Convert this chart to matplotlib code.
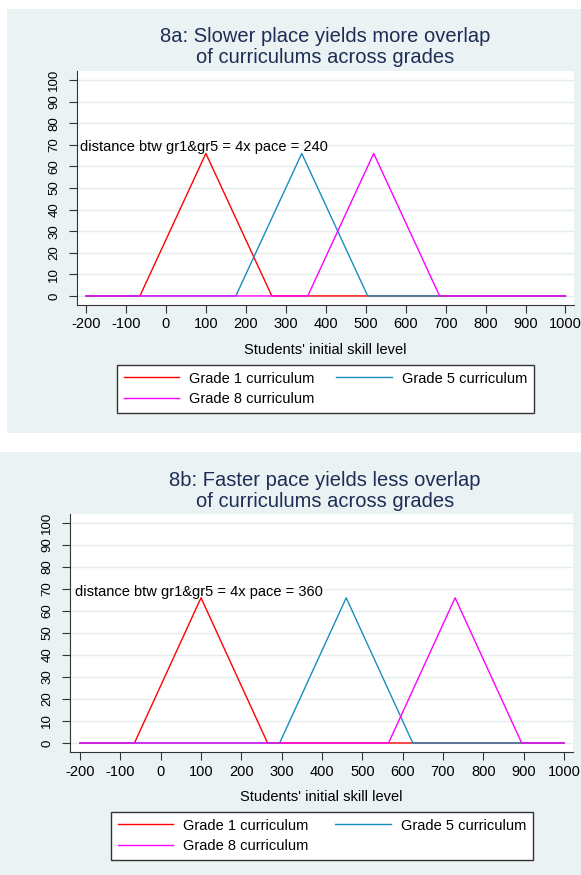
import matplotlib
matplotlib.use('Agg')
import matplotlib.pyplot as plt

# data
#=============================
peak = 66
x_g1 = [-200, -65, 100, 265, 1000]
x_g5_a = [-200, 175, 340, 505, 1000]
x_g8_a = [-200, 355, 520, 685, 1000]
x_g5_b = [-200, 295, 460, 625, 1000]
x_g8_b = [-200, 565, 730, 895, 1000]
y_tri = [0, 0, peak, 0, 0]

labels = ['Grade 1 curriculum', 'Grade 5 curriculum', 'Grade 8 curriculum']
titles = ['8a: Slower place yields more overlap\nof curriculums across grades',
          '8b: Faster pace yields less overlap\nof curriculums across grades']
notes = ['distance btw gr1&gr5 = 4x pace = 240',
         'distance btw gr1&gr5 = 4x pace = 360']
xticks = list(range(-200, 1001, 100))
yticks = list(range(0, 101, 10))

#style
#=============================
plt.rcParams['font.family'] = ['Liberation Sans', 'DejaVu Sans']
plt.rcParams['axes.unicode_minus'] = False
bg = '#EAF2F3'
grid_c = '#E4ECEE'
title_c = '#1E2D55'
colors = ['#FF0000', '#1A8DBF', '#FF00FF']
fs = 10.5
W, H = 581, 875

fig = plt.figure(figsize=(W / 100, H / 100), dpi=100)
fig.patch.set_facecolor('white')


def fx(px):
    return px / W


def fy(py):
    return 1 - py / H


def panel(bg_rect, ax_rect, xlim, ylim, xs, title, title_y, note, note_xy, leg_rect):
    # background of the panel
    l, t, r, b = bg_rect
    fig.patches.append(plt.Rectangle((fx(l), fy(b)), fx(r - l), (b - t) / H,
                                     transform=fig.transFigure, facecolor=bg,
                                     edgecolor='none', zorder=-10))
    l, t, r, b = ax_rect
    ax = fig.add_axes([fx(l), fy(b), fx(r - l), (b - t) / H])
    ax.set_facecolor('white')
    for y in yticks:
        ax.axhline(y, color=grid_c, lw=1.0, zorder=0)
    hs = []
    for x, c in zip(xs, colors):
        h, = ax.plot(x, y_tri, color=c, lw=1.0, zorder=2)
        hs.append(h)
    ax.set_xlim(*xlim)
    ax.set_ylim(*ylim)
    ax.set_xticks(xticks)
    ax.set_yticks(yticks)
    ax.tick_params(axis='x', labelsize=fs, length=6, width=0.8, color='#333333', pad=3)
    ax.tick_params(axis='y', labelsize=9.5, length=6, width=0.8, color='#333333', pad=6,
                   labelrotation=90)
    for lab in ax.get_yticklabels():
        lab.set_va('center')
    ax.spines['top'].set_visible(False)
    ax.spines['right'].set_visible(False)
    ax.spines['left'].set_color('#333333')
    ax.spines['bottom'].set_color('#333333')
    ax.set_xlabel("Students' initial skill level", fontsize=fs, labelpad=8)
    ax.text(note_xy[0], note_xy[1], note, fontsize=fs, ha='left', va='center', zorder=3)
    fig.text(fx(325), fy(title_y), title, ha='center', va='center', fontsize=14.5,
             color=title_c, linespacing=1.1)
    l, t, r, b = leg_rect
    leg = fig.legend([hs[0], hs[2], hs[1]], [labels[0], labels[2], labels[1]], ncol=2,
                     loc='upper left', bbox_to_anchor=(fx(l), fy(b), fx(r - l), (b - t) / H),
                     mode='expand', borderaxespad=0, fontsize=fs, handlelength=3.8,
                     handletextpad=0.7, fancybox=False, framealpha=1, edgecolor='#333333',
                     borderpad=0.45, labelspacing=0.45)
    leg.get_frame().set_linewidth(1.0)
    return ax


panel((7, 9, 581, 433), (77, 71, 574, 305), (-222.5, 1021.3), (-4.2, 104.2),
      [x_g1, x_g5_a, x_g8_a], titles[0], 47, notes[0], (-215, 69), (117, 365, 534, 412))
panel((0, 452, 581, 875), (70, 514, 573, 752), (-224.8, 1022.3), (-4.1, 104.1),
      [x_g1, x_g5_b, x_g8_b], titles[1], 491, notes[1], (-212, 68.6), (111, 812, 533, 860))

fig.savefig('out.png', dpi=100)
